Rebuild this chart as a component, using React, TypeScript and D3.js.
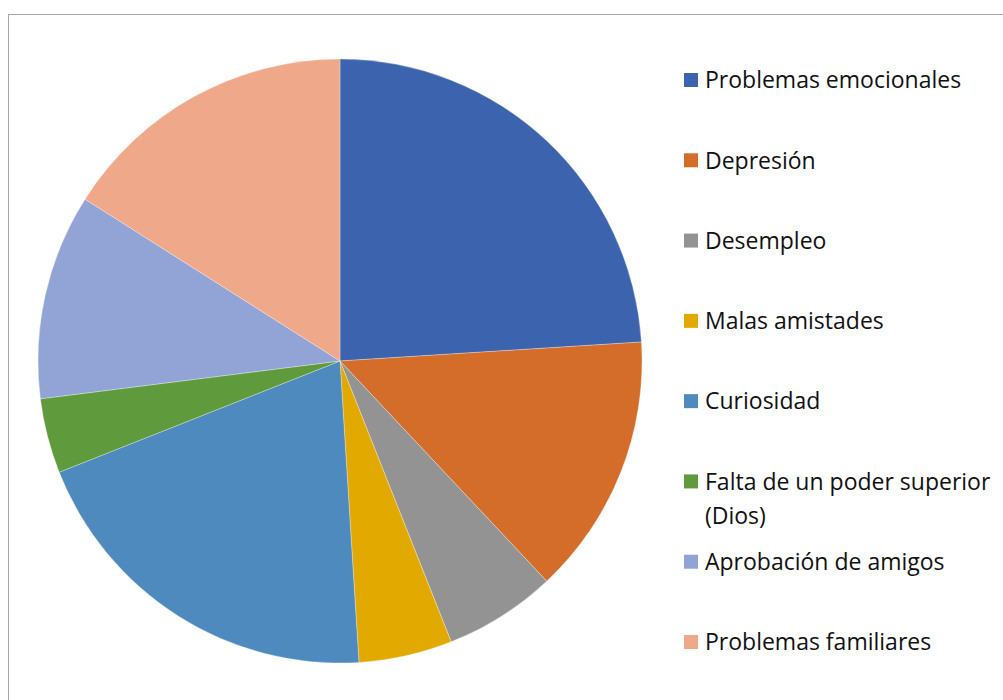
import React, { useEffect, useRef } from "react";
import * as d3 from "d3";

// Motivos (pie slices, clockwise from 12 o'clock)
const categories = [
  "Problemas emocionales",
  "Depresión",
  "Desempleo",
  "Malas amistades",
  "Curiosidad",
  "Falta de un poder superior (Dios)",
  "Aprobación de amigos",
  "Problemas familiares",
];
const values = [24, 14, 6, 5, 20, 4, 11, 16];
const colors = [
  "#3C64AE",
  "#D46D2A",
  "#939393",
  "#E2AA00",
  "#4E8ABE",
  "#5F9A3C",
  "#91A4D5",
  "#F0A88A",
];
// legend lines (wrapped as in the original)
const legendLines = [
  ["Problemas emocionales"],
  ["Depresión"],
  ["Desempleo"],
  ["Malas amistades"],
  ["Curiosidad"],
  ["Falta de un poder superior", "(Dios)"],
  ["Aprobación de amigos"],
  ["Problemas familiares"],
];

const App: React.FC = () => {
  const svgRef = useRef<SVGSVGElement | null>(null);

  useEffect(() => {
    if (!svgRef.current) return;
    const svg = d3.select(svgRef.current);
    svg.selectAll("*").remove();

    const width = 1003;
    const height = 700;
    const cx = 340;
    const cy = 361;
    const radius = 302;

    // chart area border
    svg.append("rect")
      .attr("x", 8.5)
      .attr("y", 14.5)
      .attr("width", width)
      .attr("height", height)
      .attr("fill", "white")
      .attr("stroke", "#a6a6a6")
      .attr("stroke-width", 1);

    const data = categories.map((c, i) => ({ name: c, value: values[i] }));
    const pie = d3.pie<{ name: string; value: number }>()
      .value(d => d.value)
      .sort(null);
    const arc = d3.arc<d3.PieArcDatum<{ name: string; value: number }>>()
      .innerRadius(0)
      .outerRadius(radius);

    svg.append("g")
      .attr("transform", `translate(${cx},${cy})`)
      .selectAll("path")
      .data(pie(data))
      .enter()
      .append("path")
      .attr("d", arc)
      .attr("fill", (_, i) => colors[i])
      .attr("stroke", "white")
      .attr("stroke-width", 0.3);

    // Legend
    const legendY = d3.scalePoint<number>()
      .domain(d3.range(categories.length))
      .range([80, 642]);

    const legend = svg.append("g");
    legendLines.forEach((lines, i) => {
      const y = legendY(i)!;
      const g = legend.append("g").attr("transform", `translate(684,${y})`);
      g.append("rect")
        .attr("x", 0)
        .attr("y", -7)
        .attr("width", 14)
        .attr("height", 14)
        .attr("fill", colors[i]);
      lines.forEach((line, j) => {
        g.append("text")
          .attr("x", 21)
          .attr("y", j * 34)
          .attr("dy", "0.36em")
          .attr("font-family", "'Open Sans', 'Noto Sans', sans-serif")
          .attr("font-size", 23)
          .attr("fill", "#111")
          .text(line);
      });
    });
  }, []);

  return (
    <svg
      ref={svgRef}
      width={1003}
      height={700}
      style={{ position: "absolute", left: 0, top: 0, display: "block" }}
    ></svg>
  );
};

export default App;
